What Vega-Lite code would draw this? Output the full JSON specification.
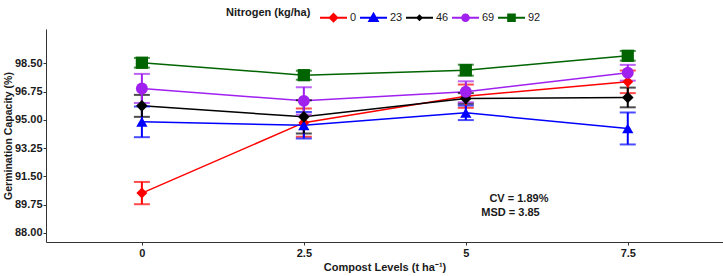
{
  "$schema": "https://vega.github.io/schema/vega-lite/v6.json",
  "width": 677,
  "height": 213,
  "autosize": {"type": "none"},
  "padding": {"left": 46, "top": 29, "right": 0, "bottom": 34},
  "background": "white",
  "config": {
    "view": {"stroke": null},
    "font": "Liberation Sans",
    "axis": {
      "grid": false,
      "domainColor": "#333333",
      "domainWidth": 1,
      "tickColor": "#333333",
      "tickSize": 3,
      "labelFont": "Liberation Sans",
      "labelFontWeight": "bold",
      "labelFontSize": 11,
      "labelColor": "#1a1a1a",
      "titleFont": "Liberation Sans",
      "titleFontWeight": "bold",
      "titleFontSize": 11,
      "titleColor": "#1a1a1a"
    }
  },
  "data": {
    "values": [
      {"compost": 0, "nitrogen": "0", "gc": 90.47, "se": 0.69},
      {"compost": 2.5, "nitrogen": "0", "gc": 94.83, "se": 0.88},
      {"compost": 5, "nitrogen": "0", "gc": 96.47, "se": 0.72},
      {"compost": 7.5, "nitrogen": "0", "gc": 97.36, "se": 0.7},
      {"compost": 0, "nitrogen": "23", "gc": 94.88, "se": 0.95},
      {"compost": 2.5, "nitrogen": "23", "gc": 94.67, "se": 0.82},
      {"compost": 5, "nitrogen": "23", "gc": 95.44, "se": 0.45},
      {"compost": 7.5, "nitrogen": "23", "gc": 94.47, "se": 0.99},
      {"compost": 0, "nitrogen": "46", "gc": 95.87, "se": 0.68},
      {"compost": 2.5, "nitrogen": "46", "gc": 95.19, "se": 1.03},
      {"compost": 5, "nitrogen": "46", "gc": 96.33, "se": 0.33},
      {"compost": 7.5, "nitrogen": "46", "gc": 96.39, "se": 0.61},
      {"compost": 0, "nitrogen": "69", "gc": 96.95, "se": 0.9},
      {"compost": 2.5, "nitrogen": "69", "gc": 96.18, "se": 0.85},
      {"compost": 5, "nitrogen": "69", "gc": 96.74, "se": 0.65},
      {"compost": 7.5, "nitrogen": "69", "gc": 97.92, "se": 0.49},
      {"compost": 0, "nitrogen": "92", "gc": 98.54, "se": 0.3},
      {"compost": 2.5, "nitrogen": "92", "gc": 97.77, "se": 0.28},
      {"compost": 5, "nitrogen": "92", "gc": 98.08, "se": 0.34},
      {"compost": 7.5, "nitrogen": "92", "gc": 98.97, "se": 0.3}
    ]
  },
  "encoding": {
    "x": {
      "field": "compost",
      "type": "quantitative",
      "scale": {"domain": [-1.48, 8.97], "nice": false, "zero": false},
      "axis": {"values": [0, 2.5, 5, 7.5], "format": ".2~f", "title": "Compost Levels (t ha⁻¹)", "labelPadding": 2, "titlePadding": 3}
    },
    "y": {
      "field": "gc",
      "type": "quantitative",
      "scale": {"domain": [87.44, 100.63], "nice": false, "zero": false},
      "axis": {"values": [88, 89.75, 91.5, 93.25, 95, 96.75, 98.5], "format": ".2f", "title": "Germination Capacity (%)", "labelPadding": 1, "titlePadding": 1, "titleFontSize": 10.5}
    }
  },
  "layer": [
    {
      "mark": {"type": "line", "strokeWidth": 1.5},
      "encoding": {
        "color": {
          "field": "nitrogen", "type": "nominal",
          "scale": {"domain": ["0", "23", "46", "69", "92"], "range": ["#FF0000", "#0000FF", "#000000", "#A020F0", "#006400"]},
          "legend": null
        }
      }
    },
    {
      "mark": {"type": "errorbar", "ticks": true, "size": 16, "thickness": 2},
      "encoding": {
        "yError": {"field": "se"},
        "color": {
          "field": "nitrogen", "type": "nominal",
          "scale": {"domain": ["0", "23", "46", "69", "92"], "range": ["#FF0000", "#0000FF", "#000000", "#A020F0", "#006400"]},
          "legend": null
        }
      }
    },
    {
      "mark": {"type": "point", "filled": true, "opacity": 1},
      "encoding": {
        "color": {
          "field": "nitrogen", "type": "nominal",
          "scale": {"domain": ["0", "23", "46", "69", "92"], "range": ["#FF0000", "#0000FF", "#000000", "#A020F0", "#006400"]},
          "legend": null
        },
        "shape": {
          "field": "nitrogen", "type": "nominal",
          "scale": {"domain": ["0", "23", "46", "69", "92"], "range": ["diamond", "triangle-up", "diamond", "circle", "square"]},
          "legend": null
        },
        "size": {
          "field": "nitrogen", "type": "nominal",
          "scale": {"domain": ["0", "23", "46", "69", "92"], "range": [120, 150, 50, 100, 85]},
          "legend": null
        }
      }
    },
    {
      "mark": {"type": "point", "filled": true, "opacity": 0},
      "encoding": {
        "color": {
          "field": "nitrogen", "type": "nominal",
          "scale": {"domain": ["0", "23", "46", "69", "92"], "range": ["#FF0000", "#0000FF", "#000000", "#A020F0", "#006400"]},
          "legend": {
            "title": "Nitrogen (kg/ha)",
            "orient": "none",
            "legendX": 180,
            "legendY": -25,
            "direction": "horizontal",
            "titleOrient": "left",
            "titleFontWeight": "bold",
            "titleFontSize": 11,
            "titleColor": "#1a1a1a",
            "titlePadding": 9,
            "titleBaseline": "middle",
            "labelFontSize": 11,
            "labelColor": "#1a1a1a",
            "labelOffset": 3,
            "columnPadding": 3,
            "symbolSize": 729,
            "symbolStrokeWidth": 0,
            "encode": {"symbols": {"update": {"opacity": {"value": 1}}}}
          }
        },
        "shape": {
          "field": "nitrogen", "type": "nominal",
          "scale": {
            "domain": ["0", "23", "46", "69", "92"],
            "range": [
              "M-1,-0.07H1V0.07H-1Z M0,-0.38L0.38,0L0,0.38L-0.38,0Z",
              "M-1,-0.07H1V0.07H-1Z M0,-0.44L0.44,0.32H-0.44Z",
              "M-1,-0.07H1V0.07H-1Z M0,-0.26L0.26,0L0,0.26L-0.26,0Z",
              "M-1,-0.07H1V0.07H-1Z M-0.32,0A0.32,0.32,0,1,1,0.32,0A0.32,0.32,0,1,1,-0.32,0Z",
              "M-1,-0.07H1V0.07H-1Z M-0.32,-0.32H0.32V0.32H-0.32Z"
            ]
          }
        }
      }
    },
    {
      "data": {
        "values": [
          {"note": "CV = 1.89%", "nx": 5.82, "ny": 90.09},
          {"note": "MSD = 3.85", "nx": 5.69, "ny": 89.22}
        ]
      },
      "mark": {"type": "text", "font": "Liberation Sans", "fontWeight": "bold", "fontSize": 11, "color": "#1a1a1a", "align": "center", "baseline": "middle"},
      "encoding": {
        "x": {"field": "nx", "type": "quantitative"},
        "y": {"field": "ny", "type": "quantitative"},
        "text": {"field": "note"}
      }
    }
  ],
  "resolve": {"scale": {"shape": "independent", "color": "independent", "size": "independent"}}
}
